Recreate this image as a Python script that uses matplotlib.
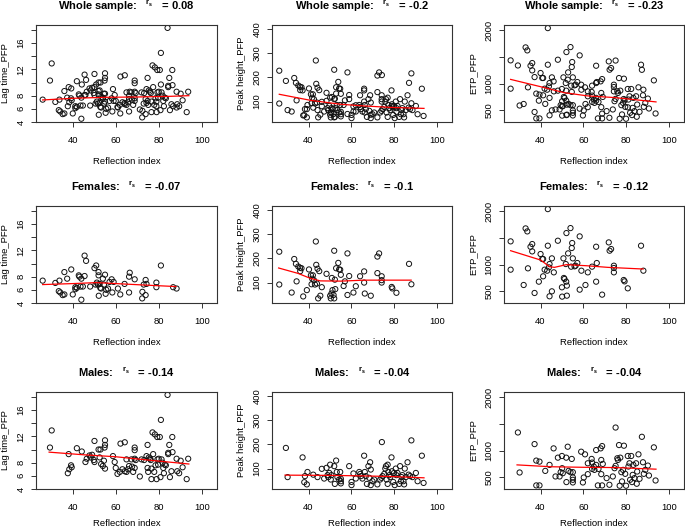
"""Reflection index vs thrombin generation parameters, 3x3 scatter grid."""

import matplotlib
matplotlib.use("Agg")
import matplotlib.pyplot as plt

plt.rcParams["font.family"] = ["Liberation Sans", "DejaVu Sans"]
plt.rcParams["mathtext.fontset"] = "custom"
plt.rcParams["mathtext.rm"] = "Liberation Sans"

# ---- females -------------------------------------------------------------
fem_lag_ri = [26, 31.9, 33.8, 33.5, 34.2, 35.3, 36.1, 36.1, 37.4, 39.3, 40, 41.2, 41.2, 41.9,
              42.8, 43.1, 43.6, 44, 44, 44.7, 45.5, 45.5, 46.2, 48.1, 50.1, 50.6, 50.9, 51.2,
              51.7, 52.0, 52.0, 52.1, 52.5, 52.8, 53.2, 54, 54.5, 55, 55.3, 55.6, 56.4, 57.1,
              58.1, 58.4, 59, 61, 62.1, 64.1, 66.2, 66.2, 66.5, 68.8, 72.4, 72.3, 73, 73.9,
              73.9, 74.3, 78.9, 78.9, 81, 86.7, 88.3]
fem_lag = [7.4, 7.05, 7.4, 5.8, 5.6, 5.2, 5.3, 8.7, 7.7, 9.1, 5.3, 6.4, 6.1, 6.3,
           8.2, 8.0, 6.5, 7.7, 4.5, 6.5, 11.2, 8.1, 10.4, 6.5, 9.3, 6.8, 9.7, 7.1,
           6.8, 8.7, 8.2, 5.1, 6.9, 6.3, 6.2, 7.7, 6.8, 8.3, 5.4, 6.0, 6.2, 7.2,
           7.6, 5.6, 7.2, 6.2, 5.3, 6.9, 5.6, 8.0, 8.6, 7.6, 5.7, 4.7, 6.8, 7.5,
           5.2, 6.9, 7.1, 6.4, 9.7, 6.4, 6.2]

fem_peak_ri = [26.3, 26.3, 32.1, 33.3, 34.1, 34.4, 35.2, 36.0, 36.1, 36.7, 37.5, 39.2, 40.2,
               41.1, 41.4, 41.7, 42.0, 42.5, 43, 43.4, 43.6, 43.9, 44.2, 44.5, 45, 45.5, 46.2,
               48.4, 50.1, 50.4, 50.7, 50.9, 51.2, 51.7, 52.0, 52.0, 52.3, 52.5, 52.9, 53.9,
               54.3, 54.8, 55.1, 56.4, 57, 58.2, 58.2, 59, 61, 62.1, 64.1, 66.0, 66.0, 66.3,
               69.1, 72.2, 72.2, 73, 74.2, 74.2, 74.2, 78.9, 79.2, 81.1, 87, 88.1]
fem_peak = [227, 92, 59, 197, 177, 105, 166, 161, 147, 159, 43, 69, 154,
            130, 93, 116, 130, 110, 92, 269, 173, 96, 157, 35, 147, 46, 81,
            136, 46, 35, 55, 119, 69, 49, 231, 35, 112, 73, 159, 181,
            154, 153, 132, 86, 105, 220, 49, 127, 59, 85, 126, 146, 100, 55,
            46, 139, 207, 220, 126, 110, 100, 82, 76, 58, 177, 93]

fem_etp_ri = [26.0, 26.0, 32.1, 33.0, 33.8, 34.1, 35.3, 36.1, 36.1, 37.2, 39.2, 40.0, 40.8,
              41.2, 41.2, 41.9, 43.1, 43.4, 43.4, 43.9, 44.2, 44.2, 45.3, 45.3, 46.2, 48.1,
              50, 50.1, 50.7, 50.9, 51.2, 51.8, 52, 52.1, 52.3, 52.3, 52.9, 54.0, 54.3, 54.6,
              54.8, 55.1, 55.9, 56.4, 57.2, 58.3, 58.3, 59.1, 61, 62.1, 64.1, 66.0, 66.3, 66.0,
              68.8, 71.9, 72.3, 73, 74.3, 74.3, 74.3, 78.9, 79.3, 80.8, 87, 88.1]
fem_etp = [1435, 907, 621, 1677, 1621, 932, 1335, 1385, 1248, 472, 683, 1199, 1106,
           1106, 783, 907, 888, 2037, 1354, 950, 1012, 410, 1118, 503, 857, 1447,
           578, 404, 1118, 752, 733, 1012, 683, 1590, 609, 422, 1211, 1683, 963, 1311,
           1404, 1118, 969, 981, 1031, 1528, 534, 888, 621, 857, 963, 1335, 1031, 683,
           441, 1416, 1261, 1292, 981, 938, 857, 714, 689, 559, 1354, 888]

# ---- males ---------------------------------------------------------------
male_lag_ri = [29.4, 30.2, 37.7, 38.1, 38.4, 39.2, 39.5, 41.9, 44.2, 45.9, 46.5, 47.8, 48.3,
               49.0, 49.8, 50.1, 50.1, 52.0, 52.5, 52.9, 53.2, 54.0, 54.5, 54.8, 55.0, 55.0,
               55.0, 58.7, 59.5, 60.0, 60.8, 61.9, 62.2, 63.1, 64.2, 64.2, 65.0, 65.0, 65.7,
               66.2, 67.3, 67.6, 68.1, 68.8, 68.8, 68.8, 69.3, 68.8, 71.2, 72.0, 73.2, 74.3,
               74.8, 74.8, 75.1, 75.4, 75.9, 76.3, 76.6, 76.6, 77.1, 77.4, 77.9, 78.2, 78.5,
               79.0, 79.3, 79.4, 79.7, 80.0, 80.5, 80.8, 81.0, 81.3, 81.8, 82.1, 82.4, 82.8,
               83.3, 84.1, 84.4, 84.4, 84.9, 85.2, 85.9, 86.3, 86.4, 88.3, 88.6, 89.5, 90.2,
               91.1, 93.0, 93.7]
male_lag = [10.3, 12.9, 6.4, 9.3, 7.0, 7.6, 7.3, 10.2, 9.7, 8.1, 8.6, 9.1, 8.8,
            9.2, 8.4, 11.3, 8.1, 10.0, 8.8, 10.0, 7.8, 7.5, 8.3, 10.3, 11.4, 10.7,
            7.1, 9.0, 8.1, 7.2, 6.3, 6.6, 10.9, 7.0, 11.1, 6.7, 8.5, 6.6, 7.0,
            7.5, 8.5, 7.4, 6.6, 10.3, 9.9, 8.6, 8.4, 7.2, 5.9, 8.5, 8.4, 9.0,
            10.7, 7.2, 6.6, 8.8, 8.6, 8.4, 7.1, 5.5, 12.6, 9.3, 6.6, 12.3, 7.6,
            5.5, 11.9, 8.5, 7.7, 8.6, 11.9, 5.8, 14.5, 8.5, 8.0, 7.2, 6.4, 7.7,
            7.6, 18.3, 9.5, 9.3, 10.7, 5.8, 6.7, 11.9, 9.6, 8.6, 6.7, 6.4, 8.3,
            7.3, 5.5, 8.6]

male_peak_ri = [29.4, 30.2, 37.2, 38.0, 38.3, 39.2, 39.5, 42.2, 44.2, 46.2, 47.3, 48.4, 48.9,
                49.2, 49.7, 50.1, 50.4, 50.7, 52.0, 52.3, 52.9, 53.2, 53.5, 54.3, 54.8, 55.1,
                55.1, 55.1, 59.0, 60.1, 60.1, 61.0, 62.1, 63.7, 64.2, 64.5, 65.2, 66.0, 66.3,
                66.8, 67.3, 68.0, 68.4, 68.8, 69.1, 69.1, 69.9, 70.7, 72.2, 73.5, 74.1, 74.3,
                74.6, 75.4, 75.9, 76.2, 76.5, 77.0, 77.0, 77.3, 77.8, 78.2, 78.8, 79.0, 79.6,
                80.0, 80.3, 80.8, 81.1, 81.6, 82.4, 82.8, 83.2, 83.5, 83.9, 84.4, 84.7, 85.0,
                85.5, 86.3, 86.8, 87.5, 88.1, 88.6, 90.2, 91.0, 93.0, 93.8]
male_peak = [185, 65, 146, 44, 69, 35, 86, 75, 65, 99, 59, 103, 73,
             65, 82, 116, 55, 73, 110, 37, 133, 86, 65, 55, 86, 48,
             39, 58, 110, 45, 32, 80, 59, 86, 78, 69, 59, 153, 86,
             69, 37, 110, 62, 126, 96, 32, 48, 55, 35, 55, 62, 209,
             69, 78, 100, 110, 55, 116, 37, 86, 73, 65, 146, 89, 45,
             82, 32, 100, 73, 82, 37, 110, 48, 65, 73, 48, 35, 100,
             65, 126, 75, 69, 216, 65, 82, 48, 153, 41]

male_etp_ri = [29.4, 30.2, 37.2, 38.0, 38.0, 39.5, 39.5, 42.2, 44.2, 46.1, 47.0, 48.1, 48.9,
               49.4, 50.0, 50.1, 50.4, 52.0, 52.1, 52.7, 53.1, 54.0, 54.6, 55.1, 55.1, 55.1,
               55.1, 59.0, 59.8, 60.2, 60.8, 62.1, 62.1, 63.9, 64.1, 64.1, 64.9, 65.2, 66.0,
               66.0, 66.8, 67.1, 68.1, 68.4, 68.8, 68.8, 68.4, 69.1, 70.9, 72.2, 73.8, 74.6,
               75.1, 75.1, 75.9, 76.2, 76.7, 77.0, 77.3, 77.8, 78.1, 78.6, 79.0, 79.6, 80.0,
               80.8, 81.1, 81.6, 81.9, 82.4, 82.8, 83.1, 83.4, 83.9, 84.7, 85.0, 85.2, 85.8,
               86.3, 87.4, 87.9, 88.3, 89.0, 90.2, 90.7, 93.0, 93.8]
male_etp = [1340, 593, 1123, 815, 352, 352, 796, 623, 735, 1043, 519, 870, 519,
            599, 901, 673, 580, 870, 414, 1074, 623, 599, 846, 599, 500, 457,
            407, 981, 407, 500, 932, 562, 765, 846, 778, 660, 704, 642, 1012,
            735, 352, 660, 1043, 827, 1086, 352, 562, 753, 488, 364, 519, 673,
            1432, 716, 858, 827, 1105, 346, 870, 599, 426, 642, 1093, 568, 346,
            901, 704, 765, 457, 901, 414, 549, 735, 488, 765, 383, 611, 932,
            475, 1259, 784, 568, 642, 722, 537, 1062, 444]

# ---- red smoothers ------------------------------------------------------
whole_lag_fit_x = [26, 40, 55, 70, 85, 94]
whole_lag_fit_y = [7.35, 7.6, 7.75, 7.8, 7.9, 8.0]
whole_peak_fit_x = [26.3, 41, 55, 66, 78.5, 94]
whole_peak_fit_y = [130, 105, 89, 82, 76, 72]
whole_etp_fit_x = [26, 40, 51, 62, 74.6, 94]
whole_etp_fit_y = [1080, 944, 833, 772, 741, 660]

fem_lag_fit_x = [26, 40, 51, 60, 75, 88]
fem_lag_fit_y = [6.8, 6.95, 7.1, 6.95, 6.7, 6.5]
fem_peak_fit_x = [26, 35, 41, 45.5, 55, 66, 88]
fem_peak_fit_y = [160, 138, 117, 107, 106, 110, 110]
fem_etp_fit_x = [26, 40, 44.2, 46.5, 52, 61.3, 71.5, 88]
fem_etp_fit_y = [1261, 1087, 963, 950, 1000, 981, 950, 919]

male_lag_fit_x = [29, 45, 60, 75, 94]
male_lag_fit_y = [9.6, 9.2, 8.9, 8.4, 7.8]
male_peak_fit_x = [29, 50, 65, 80, 94]
male_peak_fit_y = [73, 72, 70, 67, 62]
male_etp_fit_x = [29, 45, 60, 75, 94]
male_etp_fit_y = [735, 700, 690, 685, 655]

row_names = ["Whole sample", "Females", "Males"]
rs_values = [["0.08", "-0.2", "-0.23"],
             ["-0.07", "-0.1", "-0.12"],
             ["-0.14", "-0.04", "-0.04"]]
y_names = ["Lag time_PFP", "Peak height_PFP", "ETP_PFP"]

x_ticks = [40, 60, 80, 100]
lag_ticks = [4, 6, 8, 10, 12, 14, 16, 18]
lag_labels = ["4", "6", "8", "", "12", "", "16", ""]
peak_ticks = [100, 200, 300, 400]
peak_labels = ["100", "200", "300", "400"]
etp_ticks = [500, 1000, 1500, 2000]
etp_labels = ["500", "1000", "", "2000"]

scatter = [
    [(fem_lag_ri + male_lag_ri, fem_lag + male_lag),
     (fem_peak_ri + male_peak_ri, fem_peak + male_peak),
     (fem_etp_ri + male_etp_ri, fem_etp + male_etp)],
    [(fem_lag_ri, fem_lag), (fem_peak_ri, fem_peak), (fem_etp_ri, fem_etp)],
    [(male_lag_ri, male_lag), (male_peak_ri, male_peak), (male_etp_ri, male_etp)],
]
fits = [
    [(whole_lag_fit_x, whole_lag_fit_y), (whole_peak_fit_x, whole_peak_fit_y),
     (whole_etp_fit_x, whole_etp_fit_y)],
    [(fem_lag_fit_x, fem_lag_fit_y), (fem_peak_fit_x, fem_peak_fit_y),
     (fem_etp_fit_x, fem_etp_fit_y)],
    [(male_lag_fit_x, male_lag_fit_y), (male_peak_fit_x, male_peak_fit_y),
     (male_etp_fit_x, male_etp_fit_y)],
]
y_axes = [
    ((4.06, 18.74), lag_ticks, lag_labels),
    ((16, 415), peak_ticks, peak_labels),
    ((285, 2095), etp_ticks, etp_labels),
]

W, H = 685, 531
col_left = [36, 272, 504]
col_width = [181, 180, 180]
row_top = [25, 206, 392]
ax_h = 97
xlabel_y = [-0.36, -0.36, -0.31]

fig = plt.figure(figsize=(W / 100, H / 100), dpi=100)

for r in range(3):
    for c in range(3):
        rect = [col_left[c] / W, 1 - (row_top[r] + ax_h) / H, col_width[c] / W, ax_h / H]
        ax = fig.add_axes(rect)
        xs, ys = scatter[r][c]
        ax.scatter(xs, ys, s=14, facecolors="none", edgecolors="#111111", linewidths=0.7)
        fx, fy = fits[r][c]
        ax.plot(fx, fy, color="red", lw=0.9)

        ylim, yt, ytl = y_axes[c]
        ax.set_xlim(22.9, 107.1)
        ax.set_ylim(*ylim)
        ax.set_xticks(x_ticks)
        ax.set_yticks(yt)
        ax.set_yticklabels(ytl)
        ax.tick_params(axis="both", labelsize=6.8, length=3.6, width=0.7, color="#333333")
        ax.tick_params(axis="x", pad=6.5)
        ax.tick_params(axis="y", pad=4, labelrotation=90)
        for lab in ax.get_yticklabels():
            lab.set_va("center")
        for sp in ax.spines.values():
            sp.set_linewidth(0.8)
            sp.set_color("#333333")

        ax.set_xlabel("Reflection index", fontsize=6.8)
        ax.xaxis.set_label_coords(0.5, xlabel_y[r])
        ax.set_ylabel(y_names[c], fontsize=6.8)
        ax.yaxis.set_label_coords(-0.145, 0.5)

        title = f"{row_names[r]}:   " + r"$\mathregular{^{r_s}}$" + f"   = {rs_values[r][c]}"
        ax.set_title(title, fontsize=8, fontweight="bold", pad=11)

fig.savefig("out.png", dpi=100)
